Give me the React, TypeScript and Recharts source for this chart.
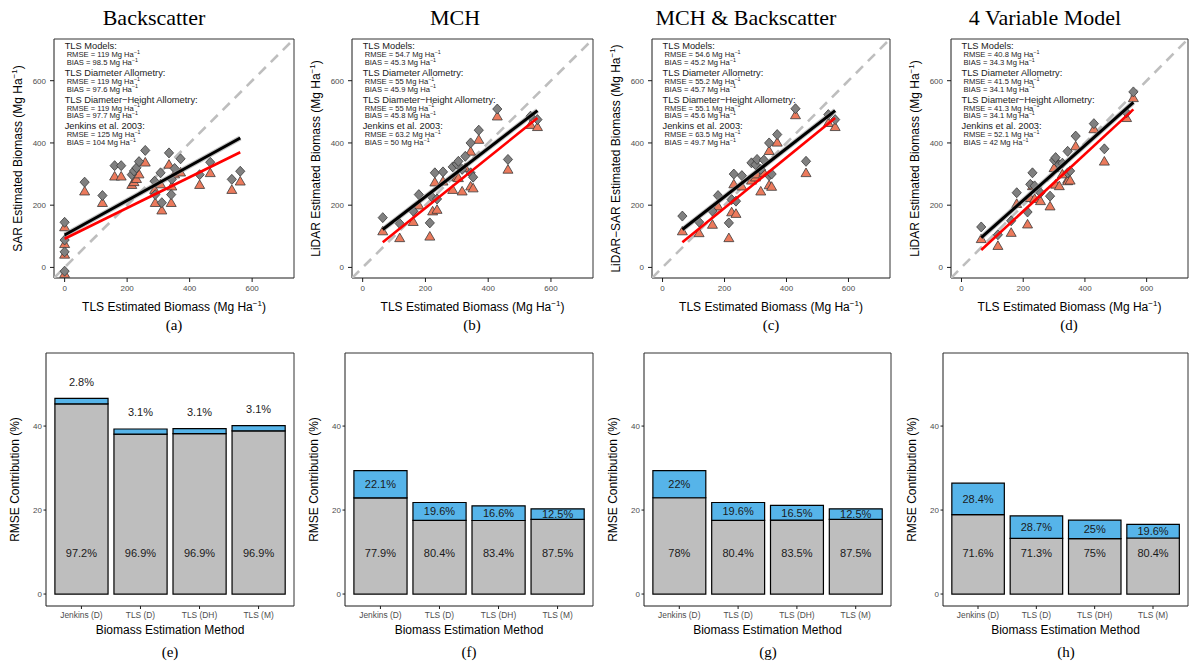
import React from "react";
import { ScatterChart, Scatter, XAxis, YAxis, ComposedChart, Bar } from "recharts";

const SANS = '"Liberation Sans", Arial, Helvetica, sans-serif';
const SERIF = '"Liberation Serif", "Times New Roman", Times, serif';

// ---------- top row: remote sensing vs TLS biomass (Mg/ha) ----------
const sarX = [0, 0, 0, 0, 64, 121, 160, 181, 215, 222, 230, 238, 258, 288, 290, 307, 311, 334, 341, 343, 352, 371, 432, 466, 535, 562];
const sarTls = [145, 88, 50, -12, 274, 231, 327, 327, 298, 310, 320, 340, 376, 277, 234, 304, 208, 368, 234, 283, 318, 349, 298, 338, 283, 309];
const sarJenkins = [130, 76, 42, -20, 245, 208, 293, 293, 266, 275, 285, 300, 338, 250, 208, 268, 184, 331, 208, 261, 300, 306, 266, 304, 250, 277];

const plotX = [64, 118, 161, 179, 214, 223, 230, 237, 256, 287, 300, 305, 317, 327, 344, 344, 352, 370, 429, 463, 535, 557];
const mchTls = [160, 141, 181, 234, 143, 224, 304, 220, 307, 323, 332, 341, 315, 357, 400, 304, 290, 441, 509, 347, 486, 475];
const mchJenkins = [117, 95, 147, 200, 100, 181, 274, 186, 277, 250, 290, 288, 245, 320, 373, 261, 255, 411, 486, 315, 459, 452];
const mchSarTls = [165, 146, 181, 231, 143, 218, 300, 213, 295, 336, 330, 347, 315, 345, 400, 295, 300, 427, 510, 341, 491, 475];
const mchSarJenkins = [117, 111, 138, 197, 95, 178, 268, 173, 261, 280, 290, 300, 245, 305, 375, 265, 260, 402, 490, 304, 465, 452];
const fourTls = [130, 105, 150, 240, 178, 267, 304, 262, 240, 229, 345, 353, 330, 335, 373, 304, 310, 422, 462, 381, 497, 564];
const fourJenkins = [92, 70, 112, 205, 139, 224, 262, 221, 214, 197, 320, 267, 262, 300, 283, 278, 280, 390, 445, 341, 481, 545];

// fitted line values at min / max x
const sarFitTls = [104, 416];
const sarFitJenkins = [92, 370];
const mchFitTls = [122, 504];
const mchFitJenkins = [81, 480];
const mchSarFitTls = [122, 504];
const mchSarFitJenkins = [81, 480];
const fourFitTls = [96, 530];
const fourFitJenkins = [56, 508];

const statHeaders = ["TLS Models:", "TLS Diameter Allometry:", "TLS Diameter\u2212Height Allometry:", "Jenkins et al. 2003:"];
const sarRmse = ["119", "119", "119", "125"];
const sarBias = ["98.5", "97.6", "97.7", "104"];
const mchRmse = ["54.7", "55", "55", "63.2"];
const mchBias = ["45.3", "45.9", "45.8", "50"];
const mchSarRmse = ["54.6", "55.2", "55.1", "63.5"];
const mchSarBias = ["45.2", "45.7", "45.6", "49.7"];
const fourRmse = ["40.8", "41.5", "41.3", "52.1"];
const fourBias = ["34.3", "34.1", "34.1", "42"];

// ---------- bottom row: RMSE contribution ----------
const methods = ["Jenkins (D)", "TLS (D)", "TLS (DH)", "TLS (M)"];
const sarTotal = [46.6, 39.3, 39.4, 40.1];
const sarVarPct = [97.2, 96.9, 96.9, 96.9];
const sarBiasPct = [2.8, 3.1, 3.1, 3.1];
const mchTotal = [29.4, 21.8, 21.0, 20.3];
const mchVarPct = [77.9, 80.4, 83.4, 87.5];
const mchBiasPct = [22.1, 19.6, 16.6, 12.5];
const mchSarTotal = [29.4, 21.8, 21.1, 20.3];
const mchSarVarPct = [78, 80.4, 83.5, 87.5];
const mchSarBiasPct = [22, 19.6, 16.5, 12.5];
const fourTotal = [26.4, 18.6, 17.6, 16.6];
const fourVarPct = [71.6, 71.3, 75, 80.4];
const fourBiasPct = [28.4, 28.7, 25, 19.6];

const DOM: [number, number] = [-34, 734];
const TICKS = [0, 200, 400, 600];
const BAR_DOM: [number, number] = [-2.85, 57.4];

const noShape = () => <g />;

const Diamond = (p: any) =>
  p.cx == null ? <g /> : (
    <polygon
      points={`${p.cx},${p.cy - 5} ${p.cx + 4.6},${p.cy} ${p.cx},${p.cy + 5} ${p.cx - 4.6},${p.cy}`}
      fill="#808080"
      stroke="#3a3a3a"
      strokeWidth={0.8}
    />
  );

const Triangle = (p: any) =>
  p.cx == null ? <g /> : (
    <polygon
      points={`${p.cx},${p.cy - 4.8} ${p.cx + 5},${p.cy + 3.8} ${p.cx - 5},${p.cy + 3.8}`}
      fill="#EC7A5C"
      stroke="#3a3a3a"
      strokeWidth={0.8}
    />
  );

function UnitLine({ x, y, name, value }: any) {
  return (
    <text x={x} y={y} fontSize={7.6} dominantBaseline="central">
      {`${name} = ${value} Mg Ha`}
      <tspan dy={-2.8} fontSize={5.4}>{"\u22121"}</tspan>
    </text>
  );
}

function StatsBlock({ cx, cy, rmse, bias }: any) {
  if (cx == null) return <g />;
  return (
    <g fontFamily={SANS} fill="#1a1a1a">
      {statHeaders.map((h, i) => {
        const y0 = cy + i * 26.6;
        return (
          <g key={h}>
            <text x={cx} y={y0} fontSize={9.3} dominantBaseline="central">{h}</text>
            <UnitLine x={cx + 2} y={y0 + 8.4} name="RMSE" value={rmse[i]} />
            <UnitLine x={cx + 2} y={y0 + 16.2} name="BIAS" value={bias[i]} />
          </g>
        );
      })}
    </g>
  );
}

function UnitTitle({ x, y, text, rotate }: any) {
  return (
    <text
      x={x}
      y={y}
      textAnchor="middle"
      dominantBaseline="central"
      fontFamily={SANS}
      fontSize={12}
      fill="#000"
      transform={rotate ? `rotate(-90, ${x}, ${y})` : undefined}
    >
      {`${text} (Mg Ha`}
      <tspan dy={-4.5} fontSize={8}>{"\u22121"}</tspan>
      <tspan dy={4.5}>)</tspan>
    </text>
  );
}

const tickStyle = { fill: "#4D4D4D", fontSize: 8, fontFamily: SANS };

function ScatterPanel({ left, plotW, yTitle, xs, tls, jenkins, fitTls, fitJenkins, rmse, bias }: any) {
  const diamonds = xs.map((v: number, i: number) => ({ x: v, y: tls[i] }));
  const triangles = xs.map((v: number, i: number) => ({ x: v, y: jenkins[i] }));
  const x0 = Math.min(...xs);
  const x1 = Math.max(...xs);
  const tlsLine = [{ x: x0, y: fitTls[0] }, { x: x1, y: fitTls[1] }];
  const jenLine = [{ x: x0, y: fitJenkins[0] }, { x: x1, y: fitJenkins[1] }];
  const oneToOne = [{ x: DOM[0], y: DOM[0] }, { x: DOM[1], y: DOM[1] }];
  return (
    <div style={{ position: "absolute", left, top: 0 }}>
      <ScatterChart width={54 + plotW + 2} height={340} margin={{ top: 38, right: 1, bottom: 32, left: 0 }}>
        <XAxis
          type="number"
          dataKey="x"
          domain={DOM}
          ticks={TICKS}
          allowDataOverflow
          height={30}
          tick={tickStyle}
          tickSize={4}
          tickMargin={3}
          stroke="#1a1a1a"
          label={(p: any) => <UnitTitle x={p.viewBox.x + p.viewBox.width / 2} y={p.viewBox.y + 29} text="TLS Estimated Biomass" />}
        />
        <YAxis
          type="number"
          dataKey="y"
          domain={DOM}
          ticks={TICKS}
          allowDataOverflow
          width={54}
          tick={tickStyle}
          tickSize={4}
          tickMargin={4}
          stroke="#1a1a1a"
          label={(p: any) => <UnitTitle x={p.viewBox.x + 18} y={p.viewBox.y + p.viewBox.height / 2} text={yTitle} rotate />}
        />
        <XAxis xAxisId="top" orientation="top" type="number" dataKey="x" domain={DOM} allowDataOverflow height={1} tick={false} tickLine={false} stroke="#333" />
        <YAxis yAxisId="right" orientation="right" type="number" dataKey="y" domain={DOM} allowDataOverflow width={1} tick={false} tickLine={false} stroke="#333" />
        <Scatter xAxisId="top" yAxisId="right" data={oneToOne} shape={noShape} isAnimationActive={false} />
        <Scatter data={oneToOne} shape={noShape} line={{ stroke: "#BEBEBE", strokeWidth: 2.6, strokeDasharray: "10 7" }} isAnimationActive={false} />
        <Scatter data={triangles} shape={Triangle} isAnimationActive={false} />
        <Scatter data={diamonds} shape={Diamond} isAnimationActive={false} />
        <Scatter data={tlsLine} shape={noShape} line={{ stroke: "#9a9a9a", strokeWidth: 5, strokeOpacity: 0.6 }} isAnimationActive={false} />
        <Scatter data={tlsLine} shape={noShape} line={{ stroke: "#000", strokeWidth: 3 }} isAnimationActive={false} />
        <Scatter data={jenLine} shape={noShape} line={{ stroke: "#FF0000", strokeWidth: 2.6 }} isAnimationActive={false} />
        <Scatter
          data={[{ x: 0, y: 710 }]}
          shape={(p: any) => <StatsBlock cx={p.cx} cy={p.cy} rmse={rmse} bias={bias} />}
          isAnimationActive={false}
        />
      </ScatterChart>
    </div>
  );
}

const BarText = (p: any) =>
  p.cx == null ? <g /> : (
    <text x={p.cx} y={p.cy} textAnchor="middle" dominantBaseline="central" fontFamily={SANS} fontSize={11} fill="#1a1a1a">
      {p.text}
    </text>
  );

function BarPanel({ left, plotW, totals, varPct, biasPct }: any) {
  const rows = methods.map((m, i) => {
    const variance = (totals[i] * varPct[i]) / 100;
    const biasPart = (totals[i] * biasPct[i]) / 100;
    return {
      method: m,
      variance,
      bias: biasPart,
      varLabelY: 9.8,
      biasLabelY: biasPart < 2 ? totals[i] + 4 : variance + biasPart / 2,
      varText: `${varPct[i]}%`,
      biasText: `${biasPct[i]}%`,
    };
  });
  const band = plotW / 4.2;
  const pad = band * 0.1;
  return (
    <div style={{ position: "absolute", left, top: 340 }}>
      <ComposedChart width={46 + plotW + 2} height={300} data={rows} margin={{ top: 12, right: 1, bottom: 14, left: 0 }}>
        <XAxis
          dataKey="method"
          padding={{ left: pad, right: pad }}
          height={20}
          tick={{ fill: "#4D4D4D", fontSize: 8.4, fontFamily: SANS }}
          tickSize={3}
          tickMargin={3}
          stroke="#1a1a1a"
          label={(p: any) => (
            <text x={p.viewBox.x + p.viewBox.width / 2} y={p.viewBox.y + 24} textAnchor="middle" dominantBaseline="central" fontFamily={SANS} fontSize={12} fill="#000">
              Biomass Estimation Method
            </text>
          )}
        />
        <YAxis
          type="number"
          domain={BAR_DOM}
          ticks={[0, 20, 40]}
          allowDataOverflow
          width={46}
          tick={tickStyle}
          tickSize={2.5}
          tickMargin={1.5}
          stroke="#1a1a1a"
          label={(p: any) => {
            const x = p.viewBox.x + 15;
            const y = p.viewBox.y + p.viewBox.height / 2;
            return (
              <text x={x} y={y} transform={`rotate(-90, ${x}, ${y})`} textAnchor="middle" dominantBaseline="central" fontFamily={SANS} fontSize={12} fill="#000">
                RMSE Contribution (%)
              </text>
            );
          }}
        />
        <XAxis xAxisId="top" dataKey="method" orientation="top" height={1} tick={false} tickLine={false} stroke="#333" />
        <YAxis yAxisId="right" orientation="right" type="number" domain={BAR_DOM} allowDataOverflow width={1} tick={false} tickLine={false} stroke="#333" />
        <Bar dataKey="variance" stackId="s" fill="#BEBEBE" stroke="#000" strokeWidth={1.2} barSize={band * 0.9} isAnimationActive={false} />
        <Bar dataKey="bias" stackId="s" fill="#56B4E9" stroke="#000" strokeWidth={1.2} barSize={band * 0.9} isAnimationActive={false} />
        <Scatter xAxisId="top" yAxisId="right" dataKey="varLabelY" shape={noShape} isAnimationActive={false} />
        <Scatter dataKey="varLabelY" shape={(p: any) => <BarText cx={p.cx} cy={p.cy} text={p.payload.varText} />} isAnimationActive={false} />
        <Scatter dataKey="biasLabelY" shape={(p: any) => <BarText cx={p.cx} cy={p.cy} text={p.payload.biasText} />} isAnimationActive={false} />
      </ComposedChart>
    </div>
  );
}

const Title = ({ cx, text }: any) => (
  <div style={{ position: "absolute", left: cx - 150, top: 4, width: 300, textAlign: "center", fontFamily: SERIF, fontSize: 22, lineHeight: "28px", color: "#000" }}>
    {text}
  </div>
);

const Caption = ({ cx, top, text }: any) => (
  <div style={{ position: "absolute", left: cx - 30, top, width: 60, textAlign: "center", fontFamily: SERIF, fontSize: 15, lineHeight: "20px", color: "#000" }}>
    {text}
  </div>
);

export default function App() {
  return (
    <div style={{ position: "absolute", left: 0, top: 0, width: 1189, height: 664, background: "#fff", overflow: "hidden" }}>
      <Title cx={154} text="Backscatter" />
      <Title cx={455} text="MCH" />
      <Title cx={746} text="MCH & Backscatter" />
      <Title cx={1045} text="4 Variable Model" />

      <ScatterPanel left={0} plotW={240} yTitle="SAR Estimated Biomass" xs={sarX} tls={sarTls} jenkins={sarJenkins} fitTls={sarFitTls} fitJenkins={sarFitJenkins} rmse={sarRmse} bias={sarBias} />
      <ScatterPanel left={298} plotW={241} yTitle="LiDAR Estimated Biomass" xs={plotX} tls={mchTls} jenkins={mchJenkins} fitTls={mchFitTls} fitJenkins={mchFitJenkins} rmse={mchRmse} bias={mchBias} />
      <ScatterPanel left={598} plotW={238} yTitle={"LiDAR\u2212SAR Estimated Biomass"} xs={plotX} tls={mchSarTls} jenkins={mchSarJenkins} fitTls={mchSarFitTls} fitJenkins={mchSarFitJenkins} rmse={mchSarRmse} bias={mchSarBias} />
      <ScatterPanel left={897} plotW={237} yTitle="LiDAR Estimated Biomass" xs={plotX} tls={fourTls} jenkins={fourJenkins} fitTls={fourFitTls} fitJenkins={fourFitJenkins} rmse={fourRmse} bias={fourBias} />

      <Caption cx={174} top={315} text="(a)" />
      <Caption cx={472} top={315} text="(b)" />
      <Caption cx={771} top={315} text="(c)" />
      <Caption cx={1069} top={315} text="(d)" />

      <BarPanel left={0} plotW={248} totals={sarTotal} varPct={sarVarPct} biasPct={sarBiasPct} />
      <BarPanel left={299} plotW={248} totals={mchTotal} varPct={mchVarPct} biasPct={mchBiasPct} />
      <BarPanel left={598} plotW={247} totals={mchSarTotal} varPct={mchSarVarPct} biasPct={mchSarBiasPct} />
      <BarPanel left={897} plotW={245} totals={fourTotal} varPct={fourVarPct} biasPct={fourBiasPct} />

      <Caption cx={170} top={642} text="(e)" />
      <Caption cx={469} top={642} text="(f)" />
      <Caption cx={768} top={642} text="(g)" />
      <Caption cx={1066} top={642} text="(h)" />
    </div>
  );
}
